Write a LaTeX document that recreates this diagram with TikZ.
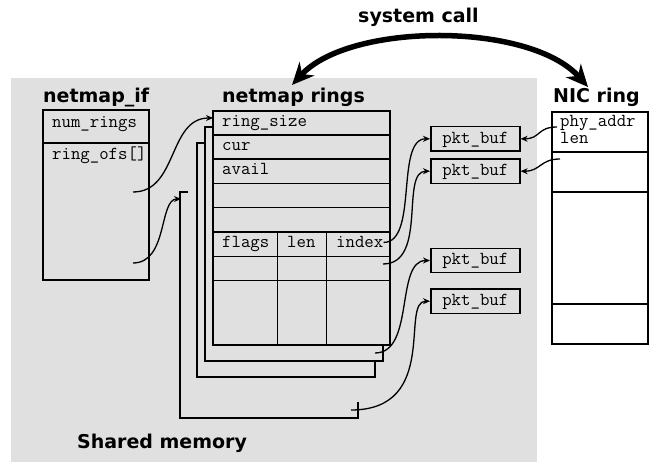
\documentclass[tikz,border=0pt]{standalone}
\usepackage{fontspec}
\newfontfamily\headfont{DejaVu Sans}
\usetikzlibrary{arrows.meta,calc}
\pgfdeclarelayer{background}
\pgfsetlayers{background,main}
\definecolor{shmem}{RGB}{224,224,224}

\begin{document}
\begin{tikzpicture}[x=1pt,y=-1pt,
  heading/.style={anchor=base west,inner sep=0pt,font=\headfont\bfseries\fontsize{19}{22}\selectfont},
  mono/.style={anchor=base west,inner sep=0pt,font=\ttfamily\fontsize{18.3}{20}\selectfont},
  frame/.style={line width=1.6pt},
  cell/.style={line width=0.8pt},
  pkt/.style={draw,frame,minimum width=89pt,minimum height=24.3pt,inner sep=0pt,
    text height=12pt,text depth=3pt,font=\ttfamily\fontsize{18.3}{20}\selectfont},
  ptr/.style={line width=1.3pt,-{Stealth[length=7pt,width=6pt]}}]
\useasboundingbox (0,0) rectangle (654,462);

\begin{pgfonlayer}{background}
\fill[shmem] (11,78) rectangle (537,462);
\end{pgfonlayer}

% titles
\node[heading] (sysc) at (358,23) {system call};
\node[heading] (ifT) at (43,103) {netmap\_if};
\node[heading] (ringsT) at (222,103) {netmap rings};
\node[heading] (nicT) at (553,103) {NIC ring};
\node[heading] (shm) at (77,449) {Shared memory};

% netmap_if
\draw[frame] (43,110) rectangle (149,280);
\draw[frame] (43,143) -- (149,143);
\node[mono] (nrings) at (52,128) {num\_rings};
\node[mono] (rofs) at (52,160) {ring\_ofs[]};

% rings behind
\draw[frame] (213,127) -- (205,127) -- (205,361) -- (383,361) -- (383,345);
\draw[frame] (205,143) -- (197,143) -- (197,377) -- (375,377) -- (375,361);
\draw[frame] (188,192) -- (180,192) -- (180,418) -- (358,418) -- (358,402);

% front ring
\draw[frame] (213,111) rectangle (390,345);
\foreach \y in {135,159,183.7,207.7,232.3}
  \draw[frame] (213,\y) -- (390,\y);
\foreach \y in {256.7,280.7}
  \draw[cell] (213,\y) -- (390,\y);
\draw[cell] (277.5,232.3) -- (277.5,345);
\draw[cell] (326,232.3) -- (326,345);
\node[mono] (rsize) at (222,127) {ring\_size};
\node[mono] (cur) at (222,151) {cur};
\node[mono] (avail) at (222,175) {avail};
\node[mono] (flags) at (222,248) {flags};
\node[mono] (len) at (287,248) {len};
\node[mono] (index) at (336,248) {index};

% buffers
\node[pkt] (pb1) at (475.3,138.8) {pkt\_buf};
\node[pkt] (pb2) at (475.3,171.2) {pkt\_buf};
\node[pkt] (pb3) at (475.3,260.5) {pkt\_buf};
\node[pkt] (pb4) at (475.3,301.2) {pkt\_buf};

% NIC ring
\draw[frame] (552,112) rectangle (648,344);
\foreach \y in {152,192,304}
  \draw[frame] (552,\y) -- (648,\y);
\node[mono,align=left,font=\ttfamily\fontsize{18.3}{16.3}\selectfont] (phy) at (560,143.3)
  {phy\_addr\\len};

% pointer ends
\coordinate (ofs0) at (133,192);
\coordinate (ofs1) at (133,263);
\coordinate (ring0) at (213,118);
\coordinate (ring3) at (181,199);
\coordinate (slot1) at (383,264);
\coordinate (ring1) at (375,353);
\coordinate (ring3b) at (351,410);
\coordinate (nic0) at (557,127);
\coordinate (nic1) at (560,159);
\coordinate (scL) at (292,85);
\coordinate (scR) at (588,87);

\draw[ptr] (ofs0) .. controls +(45,0) and +(-45,0) .. (ring0);
\draw[ptr] (ofs1) .. controls +(35,0) and +(-22,0) .. (ring3);
\draw[ptr] (index.east) .. controls +(35,0) and +(-35,0) .. (pb1.west);
\draw[ptr] (slot1) .. controls +(45,0) and +(-30,0) .. (pb2.west);
\draw[ptr] (ring1) .. controls +(40,0) and +(-35,0) .. (pb3.west);
\draw[ptr] (ring3b) .. controls +(89,0) and +(-30,0) .. (pb4.west);
\draw[ptr] (nic0) .. controls +(-20,0) and +(20,0) .. (pb1.east);
\draw[ptr] (nic1) .. controls +(-20,0) and +(20,0) .. (pb2.east);

% system call
\draw[line width=5.5pt,{Stealth[length=22pt,width=20pt]}-{Stealth[length=22pt,width=20pt]}]
  (scL) .. controls (350,22) and (530,22) .. (scR);
\end{tikzpicture}
\end{document}
